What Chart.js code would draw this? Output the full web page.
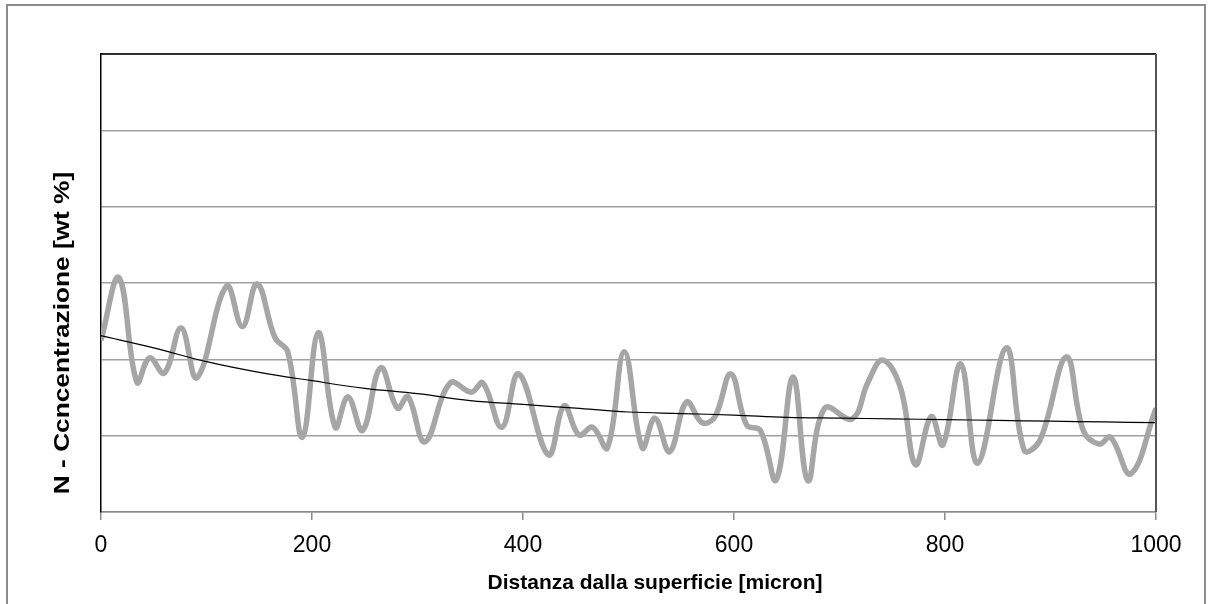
<!DOCTYPE html>
<html>
<head>
<meta charset="utf-8">
<title>N - Concentrazione</title>
<script src="https://cdn.jsdelivr.net/npm/chart.js@4.4.0/dist/chart.umd.min.js"></script>
<style>
    html, body { margin: 0; padding: 0; background: #fff; overflow: hidden; }
    #wrap { position: relative; width: 1212px; height: 604px; }
    #frame {
        position: absolute; left: 6px; top: 4px; width: 1200px; height: 640px;
        border: 2px solid #8c8c8c; box-sizing: border-box; pointer-events: none;
    }
    canvas { position: absolute; left: 0; top: 0; }
</style>
</head>
<body>
<div id="wrap">
    <canvas id="chart" width="1212" height="604"></canvas>
    <div id="frame"></div>
</div>
<script>
const distance = [0, 17, 34, 46, 60, 76, 91, 119, 134, 148, 165, 177, 191, 206, 222, 234, 248, 265, 281, 291,
    307, 331, 351, 362, 380, 396, 424, 439, 453, 466, 480, 496, 513, 525, 539, 555, 570, 582, 597, 612,
    625, 640, 656, 670, 686, 712, 727, 741, 758, 772, 787, 798, 815, 831, 858, 875, 890, 915, 931, 946,
    957, 976, 1000];
const concentration = [2.25, 3.07, 1.70, 2.02, 1.82, 2.41, 1.76, 2.96, 2.43, 2.99, 2.28, 2.10, 0.98, 2.35, 1.11, 1.51, 1.07, 1.89, 1.36, 1.51,
    0.92, 1.69, 1.57, 1.69, 1.11, 1.81, 0.75, 1.39, 1.01, 1.11, 0.84, 2.10, 0.84, 1.23, 0.79, 1.44, 1.17, 1.25, 1.81, 1.14,
    1.07, 0.42, 1.77, 0.41, 1.36, 1.22, 1.70, 1.99, 1.62, 0.62, 1.25, 0.88, 1.94, 0.64, 2.15, 0.81, 0.94, 2.03, 1.07, 0.89,
    0.98, 0.50, 1.36];

// Trend line
const trendDistance = [0, 50, 100, 150, 200, 250, 300, 350, 400, 450, 500, 550, 600, 650, 700, 750, 800, 850, 900, 950, 1000];
const trendValue = [2.31, 2.15, 1.97, 1.83, 1.72, 1.62, 1.55, 1.46, 1.41, 1.36, 1.31, 1.29, 1.27, 1.24, 1.23, 1.22, 1.21, 1.20, 1.19, 1.18, 1.17];

const xTicks = [0, 200, 400, 600, 800, 1000];
const yMax = 6;

const xTitle = 'Distanza dalla superficie [micron]';
const yTitle = 'N - Ccncentrazione [wt %]';

// Build point lists for the library
const toPoints = (xs, ys) => xs.map((x, i) => ({ x: x, y: ys[i] }));

// Frame on top/right of plot area + axis titles
const plotFramePlugin = {
    id: 'plotFrame',
    afterDraw(chart) {
        const { ctx, chartArea } = chart;
        ctx.save();
        // top border
        ctx.strokeStyle = '#000';
        ctx.lineWidth = 1.5;
        ctx.beginPath();
        ctx.moveTo(chartArea.left, chartArea.top);
        ctx.lineTo(chartArea.right, chartArea.top);
        ctx.stroke();
        // right border
        ctx.strokeStyle = '#555';
        ctx.lineWidth = 2;
        ctx.beginPath();
        ctx.moveTo(chartArea.right, chartArea.top);
        ctx.lineTo(chartArea.right, chartArea.bottom);
        ctx.stroke();

        // axis titles
        ctx.fillStyle = '#000';
        ctx.textAlign = 'center';
        ctx.textBaseline = 'middle';
        ctx.font = 'bold 21px "Liberation Sans", Arial, sans-serif';
        ctx.fillText(xTitle, 655, 583);

        ctx.translate(63, 333);
        ctx.rotate(-Math.PI / 2);
        ctx.scale(1.25, 1.05);
        ctx.fillText(yTitle, 0, 0);
        ctx.restore();
    }
};

const ctx = document.getElementById('chart');
new Chart(ctx, {
    type: 'line',
    data: {
        datasets: [{
            label: 'N',
            data: toPoints(distance, concentration),
            borderColor: '#a6a6a6',
            borderWidth: 5.5,
            pointRadius: 0,
            tension: 0.4,
            fill: false,
            order: 2
        }, {
            label: 'trend',
            data: toPoints(trendDistance, trendValue),
            borderColor: '#000',
            borderWidth: 1.2,
            pointRadius: 0,
            tension: 0.4,
            fill: false,
            order: 1
        }]
    },
    options: {
        responsive: false,
        animation: false,
        layout: { padding: { left: 0, top: 54, right: 56, bottom: 0 } },
        plugins: {
            legend: { display: false },
            tooltip: { enabled: false }
        },
        scales: {
            x: {
                type: 'linear',
                min: 0,
                max: 1000,
                afterBuildTicks(scale) {
                    scale.ticks = xTicks.map(v => ({ value: v }));
                },
                afterFit(scale) {
                    scale.height = 92;
                },
                grid: {
                    drawOnChartArea: false,
                    drawTicks: true,
                    tickLength: 8,
                    color: '#8c8c8c',
                    lineWidth: 1.5
                },
                border: { color: '#8c8c8c', width: 1.5 },
                ticks: {
                    color: '#000',
                    padding: 12,
                    maxRotation: 0,
                    callback: value => String(value),
                    font: { family: '"Liberation Sans", Arial, sans-serif', size: 23 }
                }
            },
            y: {
                min: 0,
                max: yMax,
                afterFit(scale) {
                    scale.width = 101;
                },
                ticks: { display: false, stepSize: 1 },
                grid: {
                    drawTicks: false,
                    color: '#a0a0a0',
                    lineWidth: 1.5
                },
                border: { color: '#000', width: 1.5 }
            }
        }
    },
    plugins: [plotFramePlugin]
});
</script>
</body>
</html>
